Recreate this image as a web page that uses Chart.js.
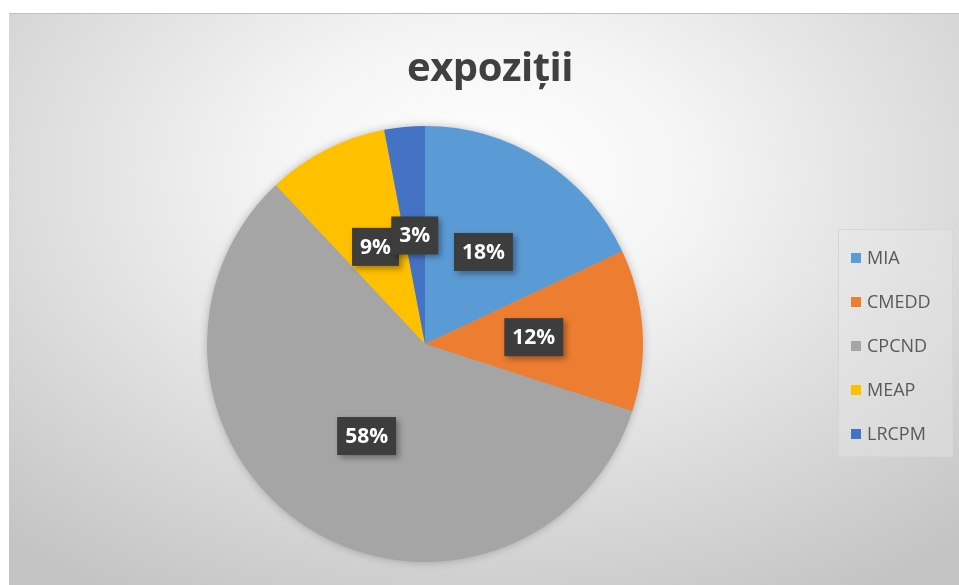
<!DOCTYPE html>
<html>
<head>
<meta charset="utf-8">
<script src="https://cdn.jsdelivr.net/npm/chart.js@4"></script>
<style>
  body { margin: 0; background: #fff; width: 959px; height: 585px; overflow: hidden; }
  #frame {
    position: absolute; left: 9px; top: 13px; width: 950px; height: 572px;
    background: radial-gradient(ellipse 75% 85% at 50% 28%, #ffffff 0%, #f4f4f4 30%, #dcdcdc 65%, #c4c4c4 100%);
    border-top: 1px solid #c0c0c0;
  }
  #title {
    position: absolute; left: 6px; width: 950px; top: 24px; text-align: center;
    font: bold 40px "Open Sans", sans-serif; color: #404040; letter-spacing: -0.5px;
  }
  #legend {
    position: absolute; left: 829px; top: 215px; width: 113px; height: 226px;
    border: 1px solid #d6d6d6; background: rgba(235,235,235,0.35);
    font: 18px "Open Sans", sans-serif; color: #595959;
  }
  .item { position: absolute; left: 12px; height: 20px; line-height: 20px; }
  .sw { display: inline-block; width: 10px; height: 10px; margin-right: 6px; vertical-align: 1px; }
  canvas { position: absolute; left: 0; top: 0; }
</style>
</head>
<body>
<div id="frame">
  <canvas id="pie" width="950" height="572"></canvas>
  <div id="title">expoziții</div>
  <div id="legend"></div>
</div>
<script>
const categories = ['MIA', 'CMEDD', 'CPCND', 'MEAP', 'LRCPM'];
const shares = [18, 12, 58, 9, 3];
const colors = ['#5B9BD5', '#ED7D31', '#A5A5A5', '#FFC000', '#4472C4'];

// legend (HTML, built from the same arrays)
const legend = document.getElementById('legend');
categories.forEach((c, i) => {
  const d = document.createElement('div');
  d.className = 'item';
  d.style.top = (17 + i * 44) + 'px';
  d.innerHTML = '<span class="sw" style="background:' + colors[i] + '"></span>' + c;
  legend.appendChild(d);
});

const pieShadow = {
  id: 'pieShadow',
  beforeDatasetsDraw(chart) {
    const arc = chart.getDatasetMeta(0).data[0];
    if (!arc) return;
    const ctx = chart.ctx;
    ctx.save();
    ctx.shadowColor = 'rgba(0,0,0,0.3)';
    ctx.shadowBlur = 10;
    ctx.beginPath();
    ctx.arc(arc.x, arc.y, arc.outerRadius - 1, 0, Math.PI * 2);
    ctx.fillStyle = '#a5a5a5';
    ctx.fill();
    ctx.restore();
  }
};

const boxLabels = {
  id: 'boxLabels',
  afterDatasetsDraw(chart) {
    const ctx = chart.ctx;
    const meta = chart.getDatasetMeta(0);
    ctx.save();
    ctx.font = 'bold 21px "Open Sans", sans-serif';
    ctx.textAlign = 'center';
    ctx.textBaseline = 'middle';
    meta.data.forEach((arc, i) => {
      const p = arc.getCenterPoint();
      const txt = shares[i] + '%';
      const w = ctx.measureText(txt).width + 16;
      const h = 38;
      ctx.save();
      ctx.shadowColor = 'rgba(0,0,0,0.35)';
      ctx.shadowBlur = 6;
      ctx.shadowOffsetX = 3;
      ctx.shadowOffsetY = 3;
      ctx.fillStyle = '#3d3d3d';
      ctx.fillRect(p.x - w / 2, p.y - h / 2, w, h);
      ctx.restore();
      ctx.fillStyle = '#ffffff';
      ctx.fillText(txt, p.x, p.y + 1);
    });
    ctx.restore();
  }
};

new Chart(document.getElementById('pie'), {
  type: 'pie',
  data: {
    labels: categories,
    datasets: [{
      data: shares,
      backgroundColor: colors,
      borderWidth: 0
    }]
  },
  options: {
    responsive: false,
    animation: false,
    layout: { padding: { left: 198, right: 316, top: 112, bottom: 24 } },
    plugins: {
      legend: { display: false },
      tooltip: { enabled: false }
    }
  },
  plugins: [pieShadow, boxLabels]
});
</script>
</body>
</html>
